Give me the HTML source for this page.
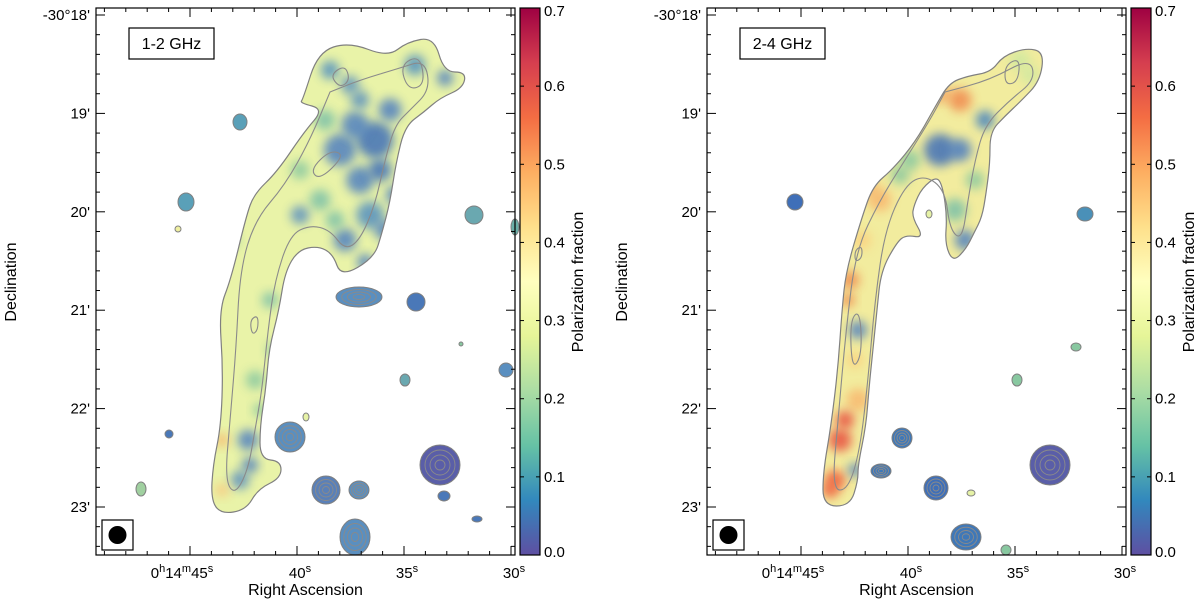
<!DOCTYPE html>
<html><head><meta charset="utf-8">
<style>
body{margin:0;background:#fff;}
svg{display:block;font-family:"Liberation Sans",sans-serif;}
</style></head>
<body>
<svg id="fig" width="1200" height="603" viewBox="0 0 1200 603" xmlns="http://www.w3.org/2000/svg">
<defs>
<linearGradient id="cmap" x1="0" y1="1" x2="0" y2="0">
<stop offset="0" stop-color="#5e4fa2"/><stop offset="0.1" stop-color="#3288bd"/>
<stop offset="0.2" stop-color="#66c2a5"/><stop offset="0.3" stop-color="#abdda4"/>
<stop offset="0.4" stop-color="#e6f598"/><stop offset="0.5" stop-color="#ffffbf"/>
<stop offset="0.6" stop-color="#fee08b"/><stop offset="0.7" stop-color="#fdae61"/>
<stop offset="0.8" stop-color="#f46d43"/><stop offset="0.9" stop-color="#d53e4f"/>
<stop offset="1" stop-color="#9e0142"/>
</linearGradient>
<filter id="blur" x="-50%" y="-50%" width="200%" height="200%"><feGaussianBlur stdDeviation="5"/></filter>
<clipPath id="clipL"><path id="jetLclip" d=""/></clipPath>
<clipPath id="clipR"><path id="jetRclip" d=""/></clipPath>
</defs>
<g id="root"></g>
</svg>
<script>
const NS="http://www.w3.org/2000/svg";
const decTicks=[18,19,20,21,22,23];
const decLabels=["-30°18'","19'","20'","21'","22'","23'"];
const raTicks=[45,40,35,30];
const cbTicks=[0,0.1,0.2,0.3,0.4,0.5,0.6,0.7];
const cbLabels=["0.0","0.1","0.2","0.3","0.4","0.5","0.6","0.7"];
const panels=[{x0:96,x1:515,cb0:520,cb1:540,label:"1-2 GHz",dx:0,clip:"clipL",base:"#e9f3a8"},
              {x0:707,x1:1126,cb0:1131,cb1:1151,label:"2-4 GHz",dx:611,clip:"clipR",base:"#f2ec9e"}];
const T=8,B=555;
function yDec(d){return 15+(d-18)*98.4;}
function xRA(ra,dx){return 190+dx+(45-ra)*21.4;}
function yCb(v){return B-(v/0.7)*(B-T);}
const jetL=[[303,99],[318,52],[349,42],[388,57],[407,42],[434,37],[444,72],[466,72],[463,88],[440,98],[424,112],[405,126],[396,163],[390,202],[382,233],[374,258],[341,277],[333,254],[318,246],[298,250],[285,272],[279,310],[269,349],[266,388],[260,426],[260,459],[281,461],[281,478],[258,489],[246,510],[221,514],[211,500],[213,465],[221,426],[223,368],[219,310],[231,279],[246,217],[254,194],[277,172],[304,132],[324,109],[300,103]];
const jetR=[[949,83],[968,76],[991,72],[1003,56],[1026,48],[1044,52],[1040,81],[1021,101],[1005,116],[990,132],[990,163],[986,194],[982,217],[974,233],[966,249],[953,262],[945,244],[947,217],[943,188],[937,176],[922,188],[914,205],[912,217],[924,238],[906,235],[897,242],[881,271],[877,310],[873,349],[869,388],[866,426],[858,465],[858,481],[850,506],[823,506],[823,473],[831,426],[838,368],[842,310],[846,271],[862,217],[873,186],[893,169],[916,141],[935,107]];
const contL=[[[330,92],[360,80],[400,68],[425,60],[430,90],[410,110],[395,125],[385,160],[375,205],[360,240],[345,250],[330,230],[310,225],[290,235],[275,280],[268,330],[262,390],[255,430],[248,470],[235,495],[225,480],[230,420],[236,350],[240,270],[255,220],[285,185],[310,140],[330,92]],
 [[330,75],[345,65],[350,80],[340,88]],[[400,65],[420,55],[425,85],[408,90]],[[310,170],[330,150],[345,155],[320,180]],[[250,320],[258,315],[258,330],[252,335]]];
const contR=[[[945,92],[990,80],[1030,58],[1035,80],[1010,100],[985,125],[975,160],[968,200],[962,240],[950,230],[945,190],[925,175],[905,185],[885,230],[875,300],[868,380],[860,450],[848,490],[832,490],[838,420],[846,330],[856,250],[880,200],[905,160],[930,120],[945,92]],
 [[1005,65],[1020,58],[1018,82],[1005,85]],[[850,320],[860,310],[862,355],[852,370]],[[855,250],[862,246],[862,258],[855,262]]];
const blotL=[[340,150,14,"#4f7fc0"],[375,140,16,"#3f6fb8"],[360,180,12,"#4f80c0"],[390,110,10,"#4f7fc0"],[415,65,9,"#4f8fc0"],[330,70,8,"#4f8fc0"],[370,215,12,"#5590c0"],[320,200,9,"#7ac0a8"],[345,240,10,"#4f80c0"],[300,170,8,"#88c8a0"],[270,300,7,"#7ac0a8"],[255,380,8,"#88c8a0"],[248,440,9,"#4f80c0"],[240,480,8,"#5a8fc0"],[222,440,6,"#f8b870"],[230,240,7,"#7ac0a8"],[445,78,7,"#4f80c0"],[290,120,6,"#88c8a0"],
 [355,125,12,"#4f80c0"],[380,170,10,"#3f6fb8"],[325,120,9,"#7ac0a8"],[360,100,8,"#5a90c0"],[385,230,9,"#4f80c0"],[300,215,8,"#5a90c0"],[335,220,8,"#7ac0a8"],[275,350,7,"#88c8a0"],[250,465,7,"#4f80c0"],[222,490,6,"#f8c880"],[260,410,6,"#88c8a0"],[395,195,8,"#4f80c0"],[365,262,7,"#4f80c0"],[350,85,8,"#5a90c0"]];
const blotR=[[940,150,14,"#3f6fb8"],[960,150,10,"#4f7fc0"],[960,100,10,"#f08a50"],[930,95,9,"#f5a060"],[985,120,8,"#3f80c0"],[955,210,10,"#7ac0a8"],[965,240,9,"#4f80c0"],[880,200,10,"#f8b870"],[862,240,8,"#fbd080"],[858,330,8,"#4f80c0"],[858,400,10,"#f8b870"],[840,440,10,"#e85040"],[835,480,9,"#f06040"],[855,470,6,"#4f80c0"],[900,175,8,"#88c8a0"],[1020,60,9,"#cfe8a0"],[850,280,8,"#f08a50"],
 [845,420,8,"#e85040"],[830,490,7,"#f06040"],[848,300,6,"#f08a50"],[870,190,8,"#f8b870"],[910,160,9,"#88c8a0"],[975,180,8,"#88c8a0"],[945,95,6,"#f5a060"],[1030,75,8,"#cfe8a0"],[855,360,7,"#fbd080"]];
const srcL=[[240,122,7,8,"#5aa0b8"],[186,202,8,9,"#5aa0b8"],[178,229,3,3,"#f0f0a0"],[474,215,9,9,"#6aa8b0"],[515,227,4,8,"#6ab0a8"],[359,297,23,10,"#5a8fc0"],[416,302,9,9,"#4a78b8"],[461,344,2,2,"#88c8a0"],[506,370,7,7,"#5a8fc0"],[405,380,5,6,"#6aa8b0"],[306,417,3,4,"#e6f2a6"],[169,434,4,4,"#4a78b8"],[290,437,15,15,"#5a8fc0"],[440,465,20,20,"#5a5ea8"],[326,490,14,14,"#5a80b8"],[359,490,10,9,"#5a8fc0"],[444,496,6,5,"#4a78b8"],[477,519,5,3,"#4a78b8"],[141,489,5,7,"#a0d0a0"],[355,537,15,18,"#5a8fc0"]];
const srcR=[[795,202,8,8,"#3f6fb8"],[929,214,3,4,"#e6f2a6"],[1085,214,8,7,"#4a90b8"],[1076,347,5,4,"#88c8a0"],[1017,380,5,6,"#88c8a0"],[902,438,10,10,"#3f78b8"],[881,471,10,7,"#3f78b8"],[936,488,12,12,"#3f6fb8"],[971,493,4,3,"#e6f2a6"],[1050,465,20,20,"#5a5ea8"],[966,537,15,13,"#3f78b8"],[1006,550,5,5,"#88c8a0"]];

const root=document.getElementById('root');
function el(tag,attrs,parent){const e=document.createElementNS(NS,tag);for(const k in attrs)e.setAttribute(k,attrs[k]);(parent||root).appendChild(e);return e;}
function smooth(pts){let d="";const n=pts.length;for(let i=0;i<n;i++){const p=pts[i],q=pts[(i+1)%n];const mx=(p[0]+q[0])/2,my=(p[1]+q[1])/2;if(i===0)d+="M"+((pts[n-1][0]+p[0])/2)+","+((pts[n-1][1]+p[1])/2);d+=" Q"+p[0]+","+p[1]+" "+mx+","+my;}return d+"Z";}

panels.forEach((P,pi)=>{
  const g=el('g',{});
  
  
  const jet=pi?jetR:jetL, cont=pi?contR:contL, blot=pi?blotR:blotL, src=pi?srcR:srcL;
  const jd=smooth(jet);
  document.getElementById(pi?'jetRclip':'jetLclip').setAttribute('d',jd);
  const jf=el('path',{d:jd,fill:P.base},g);
  
  
  const bg=el('g',{'clip-path':'url(#'+P.clip+')'},g);
  blot.forEach(b=>{el('circle',{cx:b[0],cy:b[1],r:b[2]*1.15,fill:b[3],opacity:0.85,filter:'url(#blur)'},bg);});
  el('path',{d:jd,fill:'none',stroke:'#808080','stroke-width':1.2},g);
  cont.forEach(c=>{el('path',{d:smooth(c),fill:'none',stroke:'#8a8a8a','stroke-width':1.1},g);});
  src.forEach(s=>{
    const e=el('ellipse',{cx:s[0],cy:s[1],rx:s[2],ry:s[3],fill:s[4],stroke:'#808080','stroke-width':1},g);
    
    
    if(s[2]>=10){for(let k=1;k<4;k++)el('ellipse',{cx:s[0],cy:s[1],rx:s[2]*k/4,ry:s[3]*k/4,fill:'none',stroke:'#8a8a8a','stroke-width':0.9},g);}
  });
  const fr=el('rect',{x:P.x0,y:T,width:P.x1-P.x0,height:B-T,fill:'none',stroke:'#000','stroke-width':1.2},g);
  
  
  for(let m=17.8;m<=23.5;m+=0.2){const y=yDec(m);if(y<T||y>B)continue;const major=Math.abs(m-Math.round(m))<0.01;const L=major?9:4;
    el('line',{x1:P.x0,x2:P.x0+L,y1:y,y2:y,stroke:'#000'},g);el('line',{x1:P.x1,x2:P.x1-L,y1:y,y2:y,stroke:'#000'},g);}
  decTicks.forEach((d,i)=>{const t=el('text',{x:P.x0-6,y:yDec(d)+5,'text-anchor':'end','font-size':15},g);t.textContent=decLabels[i];
    });
  for(let s=50;s>=29;s--){const x=xRA(s,P.dx);if(x<P.x0||x>P.x1)continue;const L=(s%5===0)?9:4;
    el('line',{x1:x,x2:x,y1:B,y2:B-L,stroke:'#000'},g);el('line',{x1:x,x2:x,y1:T,y2:T+L,stroke:'#000'},g);}
  raTicks.forEach(s=>{const x=xRA(s,P.dx);const t=el('text',{x:x,y:B+23,'text-anchor':'middle','font-size':15},g);
    
    if(s===45){t.innerHTML='0<tspan font-size="11" dy="-6">h</tspan><tspan dy="6">14</tspan><tspan font-size="11" dy="-6">m</tspan><tspan dy="6">45</tspan><tspan font-size="11" dy="-6">s</tspan>';t.setAttribute('x',x-8);}
    else{t.innerHTML=s+'<tspan font-size="11" dy="-6">s</tspan>';t.setAttribute('x',x+3);}});
  const xt=el('text',{x:(P.x0+P.x1)/2,y:595,'text-anchor':'middle','font-size':16},g);xt.textContent='Right Ascension';
  
  const yt=el('text',{x:0,y:0,'text-anchor':'middle','font-size':16,transform:'translate('+(P.x0-80)+',282) rotate(-90)'},g);yt.textContent='Declination';
  
  const lb=el('rect',{x:P.x0+33,y:28,width:85,height:31,fill:'#fff',stroke:'#000','stroke-width':1.2},g);
  
  const lt=el('text',{x:P.x0+75.5,y:49,'text-anchor':'middle','font-size':16},g);lt.textContent=P.label;
  
  const bb=el('rect',{x:P.x0+6,y:520,width:31,height:30,fill:'#fff',stroke:'#000','stroke-width':1.2},g);
  
  el('circle',{cx:P.x0+21.5,cy:535,r:9,fill:'#000'},g);
  const cb=el('rect',{x:P.cb0,y:T,width:P.cb1-P.cb0,height:B-T,fill:'url(#cmap)',stroke:'#000','stroke-width':1.2},g);
  
  cbTicks.forEach((v,i)=>{const y=yCb(v);el('line',{x1:P.cb0,x2:P.cb0+4,y1:y,y2:y,stroke:'#000'},g);el('line',{x1:P.cb1,x2:P.cb1-4,y1:y,y2:y,stroke:'#000'},g);
    const t=el('text',{x:P.cb1+4,y:y+(i===0?2:i===7?8:5),'font-size':15},g);t.textContent=cbLabels[i];
    });
  const ct=el('text',{x:0,y:0,'text-anchor':'middle','font-size':16,transform:'translate('+(P.cb1+43)+',282) rotate(-90)'},g);ct.textContent='Polarization fraction';
  
});
</script>
</body></html>
